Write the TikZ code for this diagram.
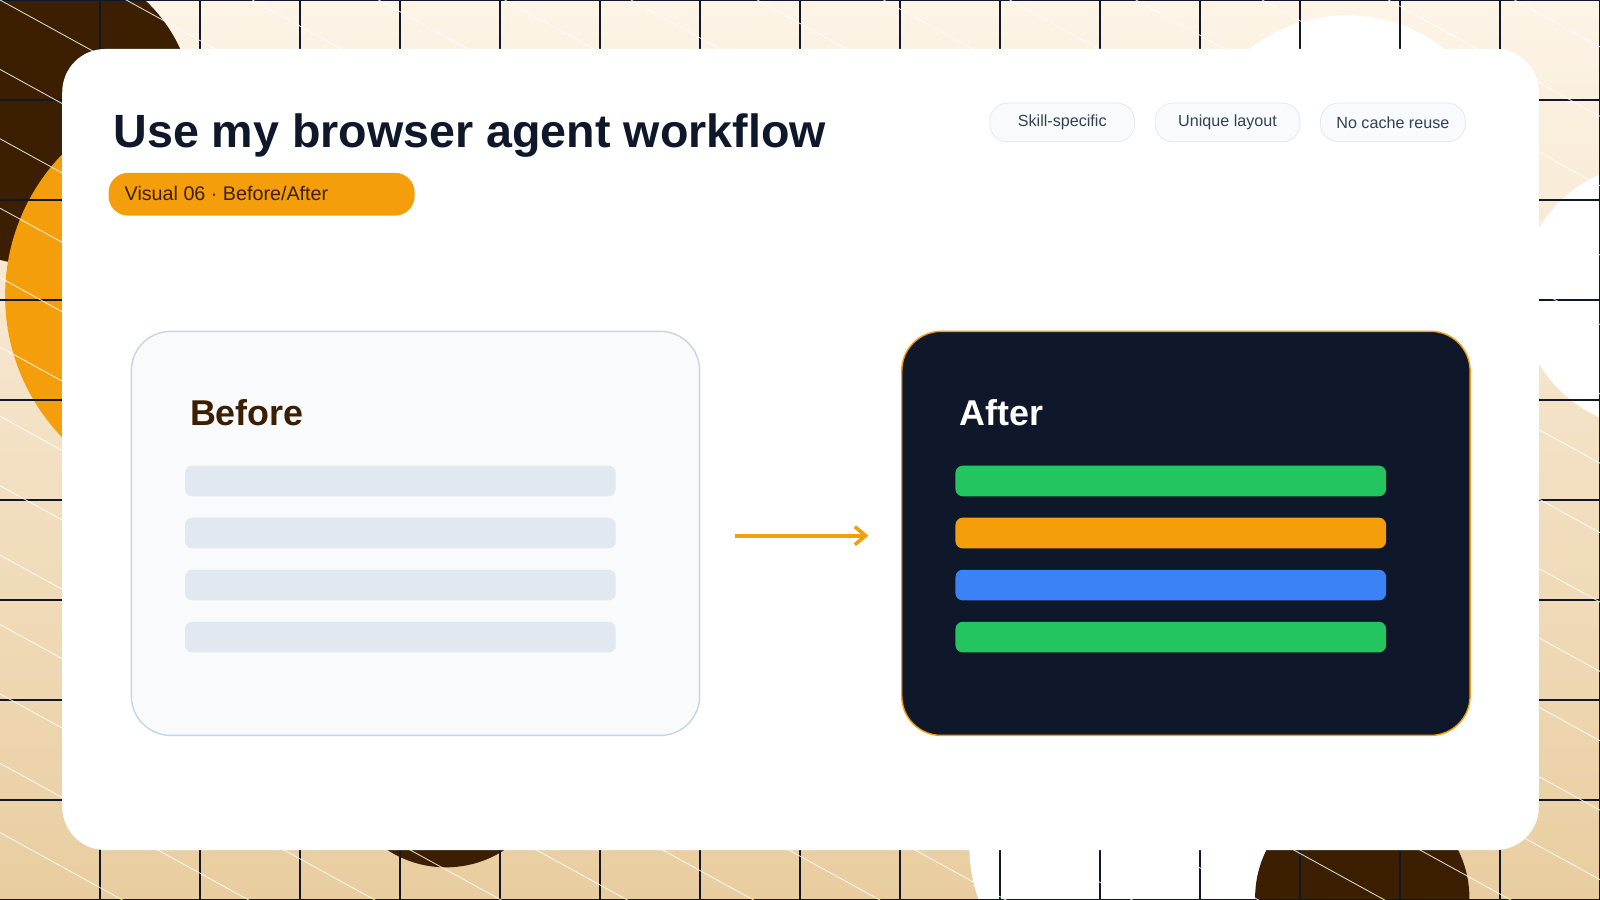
\documentclass[tikz,border=0pt]{standalone}
\usepackage{fontspec}
\setmainfont{Liberation Sans}
\usetikzlibrary{arrows.meta}
\definecolor{cream}{HTML}{FDF4E7}
\definecolor{tan}{HTML}{E9CDA0}
\definecolor{dbrown}{HTML}{3B1F00}
\definecolor{amber}{HTML}{F59E0B}
\definecolor{navy}{HTML}{0F172A}
\definecolor{slatebg}{HTML}{F8FAFC}
\definecolor{slateln}{HTML}{E2E8F0}
\definecolor{slatebd}{HTML}{CBD5E1}
\definecolor{slatetx}{HTML}{334155}
\definecolor{gbar}{HTML}{22C55E}
\definecolor{bbar}{HTML}{3B82F6}
\tikzset{
  px/.style={x=0.02cm,y=-0.02cm},
  tag/.style={draw=slateln,fill=slatebg,rounded corners=10pt,minimum width=142*0.02cm,minimum height=38*0.02cm,inner sep=0pt,text=slatetx,font=\fontsize{9}{11}\selectfont},
  bar/.style={rounded corners=4pt,minimum width=422*0.02cm,minimum height=30*0.02cm,inner sep=0pt,anchor=north west},
  card/.style={rounded corners=22pt,minimum width=557*0.02cm,minimum height=396*0.02cm,inner sep=0pt,anchor=north west,line width=0.8pt},
}
\begin{document}
\begin{tikzpicture}[px]
\useasboundingbox (0,0) rectangle (1568,882);
\begin{scope}
\clip (0,0) rectangle (1568,882);
\shade[top color=cream,bottom color=tan] (0,0) rectangle (1568,882);
\fill[dbrown] (40,110) circle (150);
\fill[amber] (205,290) circle (200);
\fill[white] (1320,170) circle (155);
\fill[white] (1620,290) circle (130);
\fill[dbrown] (437,745) circle (105);
\fill[white] (1100,830) circle (150);
\fill[dbrown] (1335,880) circle (105);
\foreach \x in {98,196,...,1568} \draw[navy,line width=0.6pt] (\x,0) -- (\x,882);
\foreach \y in {0,98,...,882} \draw[navy,line width=0.6pt] (0,\y) -- (1568,\y);
\foreach \k in {-1700,-1632,...,900} \draw[white,opacity=0.8,line width=0.5pt] (0,\k) -- (1568,\k+862);
\end{scope}
\fill[white] (61,48) [rounded corners=24pt] rectangle (1508,833);
\node[anchor=base west,text=navy,font=\bfseries\fontsize{26}{30}\selectfont] (title) at (105,145) {Use my browser agent workflow};
\node[fill=amber,rounded corners=11pt,minimum width=300*0.02cm,minimum height=42*0.02cm,inner sep=0pt,anchor=north west] (pill) at (106,169) {};
\node[anchor=west,text=dbrown,font=\fontsize{11}{13}\selectfont] (pilltext) at (116,190) {Visual 06 · Before/After};
\node[tag] (t1) at (1041,120) {Skill-specific};
\node[tag] (t2) at (1203,120) {Unique layout};
\node[tag] (t3) at (1365,120) {No cache reuse};
\node[card,draw=slatebd,fill=slatebg] (before) at (128,324) {};
\node[anchor=base west,text=dbrown,font=\bfseries\fontsize{20}{24}\selectfont] (bt) at (180,417) {Before};
\foreach \i/\y in {1/456,2/507,3/558,4/609} \node[bar,fill=slateln] (b\i) at (181,\y) {};
\node[card,draw=amber,fill=navy] (after) at (883,324) {};
\node[anchor=base west,text=white,font=\bfseries\fontsize{20}{24}\selectfont] (at) at (934,417) {After};
\node[bar,fill=gbar] (a1) at (936,456) {};
\node[bar,fill=amber] (a2) at (936,507) {};
\node[bar,fill=bbar] (a3) at (936,558) {};
\node[bar,fill=gbar] (a4) at (936,609) {};
\coordinate (s) at (720,525);
\coordinate (e) at (851,525);
\draw[amber,line width=2.3pt,-{Straight Barb[length=6pt,width=10pt,line width=2pt]}] (s) -- (e);
\end{tikzpicture}
\end{document}
